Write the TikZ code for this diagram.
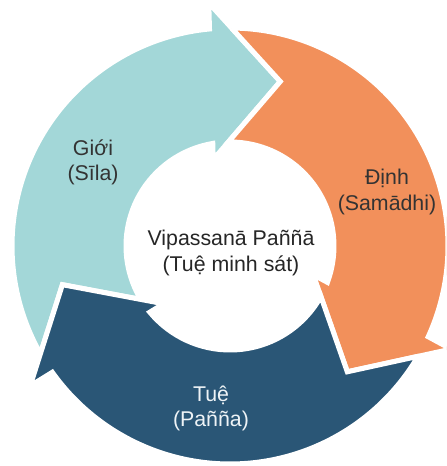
\documentclass[tikz,border=0pt]{standalone}
\usepackage{fontspec}
\setmainfont{Liberation Sans}
\definecolor{silateal}{HTML}{A3D7D8}
\definecolor{samorange}{HTML}{F2905B}
\definecolor{pannavy}{HTML}{2A5676}
\definecolor{darktext}{HTML}{333333}
\definecolor{lighttext}{HTML}{EEF3F6}
\tikzset{
  % one curved block arrow of the cycle; its tail notch fits the head of the previous arrow
  cyclearrow/.pic={
    \path[pic actions] (209.59:218) -- (193:172) -- (210.92:104)
      arc[start angle=210.92, end angle=99.54, radius=104]
      -- (101:88) -- (73:172) -- (95:244) -- (95.40:218)
      arc[start angle=95.40, end angle=209.59, radius=218] -- cycle;
  },
  arrowpart/.style={draw=white, line width=3.75pt, line join=miter},
  label/.style={align=center, font=\fontsize{16}{18.8}\selectfont}
}
\begin{document}
\begin{tikzpicture}[x=0.75pt, y=0.75pt]
  \useasboundingbox (-230,-220) rectangle (216,246);
  \clip (-230,-220) rectangle (216,246);
  \fill[white] (-230,-220) rectangle (216,246);
  % the three arrows of the cycle
  \pic[arrowpart, fill=silateal] {cyclearrow};
  \pic[arrowpart, fill=samorange, rotate=-120] {cyclearrow};
  \pic[arrowpart, fill=pannavy, rotate=120] {cyclearrow};
  % labels
  \node[label, text=darktext] (gioi) at (-137,84) {Giới\\(Sīla)};
  \node[label, text=darktext] (dinh) at (157,54) {Định\\(Samādhi)};
  \node[label, text=lighttext] (tue) at (-19,-162) {Tuệ\\(Pañña)};
  \node[label, text=black!85] (center) at (1,-7) {Vipassanā Paññā\\(Tuệ minh sát)};
\end{tikzpicture}
\end{document}
